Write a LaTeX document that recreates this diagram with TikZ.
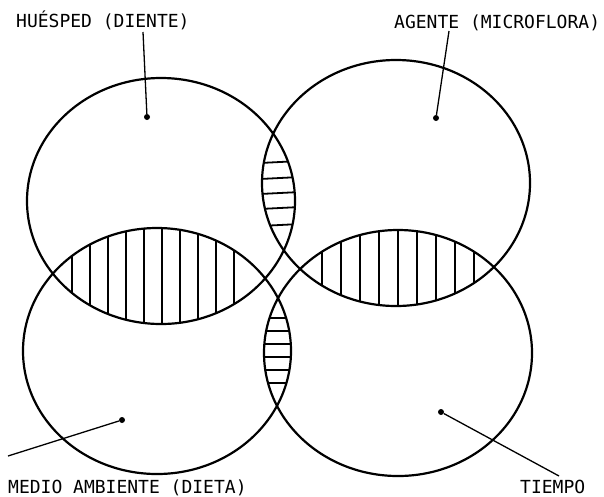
\documentclass[tikz,border=0pt]{standalone}
\usepackage{fontspec}
\newfontfamily\typewriter{DejaVu Sans Mono}
\usetikzlibrary{positioning,shapes.geometric}

\begin{document}
\begin{tikzpicture}[x=1pt, y=-1pt,
  ring/.style={draw, ellipse, line width=2.2pt, minimum width=268pt, minimum height=246pt, inner sep=0pt},
  dot/.style={circle, fill, inner sep=0pt, minimum size=6pt},
  tag/.style={anchor=base west, inner sep=0pt, font=\typewriter\fontsize{18}{20}\selectfont},
  hatch/.style={line width=1.8pt},
  lead/.style={line width=1.3pt}]
\useasboundingbox (0,0) rectangle (604,496);
% the four factors
\node[ring] (huesped) at (161,201) {};
\node[ring] (agente) at (396,183) {};
\node[ring] (medio) at (157,351) {};
\node[ring] (tiempo) at (398,353) {};
% hatched overlaps
\begin{scope}
  \clip (huesped.center) ellipse [x radius=134, y radius=123];
  \clip (agente.center) ellipse [x radius=134, y radius=123];
  \foreach \y in {162,178,193,208,225} \draw[hatch] (240,\y+2) -- (320,\y-2);
\end{scope}
\begin{scope}
  \clip (huesped.center) ellipse [x radius=134, y radius=123];
  \clip (medio.center) ellipse [x radius=134, y radius=123];
  \foreach \x in {72,90,...,234} \draw[hatch] (\x,210) -- (\x,340);
\end{scope}
\begin{scope}
  \clip (agente.center) ellipse [x radius=134, y radius=123];
  \clip (tiempo.center) ellipse [x radius=134, y radius=123];
  \foreach \x in {322,341,...,474} \draw[hatch] (\x,215) -- (\x,320);
\end{scope}
\begin{scope}
  \clip (medio.center) ellipse [x radius=134, y radius=123];
  \clip (tiempo.center) ellipse [x radius=134, y radius=123];
  \foreach \y in {318,331,...,383} \draw[hatch] (250,\y) -- (305,\y);
\end{scope}
% labels and leaders
\node[tag] (hue-lab) at (16,27) {HUÉSPED (DIENTE)};
\node[tag] (age-lab) at (394,28) {AGENTE (MICROFLORA)};
\node[tag] (med-lab) at (8,493) {MEDIO AMBIENTE (DIETA)};
\node[tag] (tie-lab) at (520,493) {TIEMPO};
\node[dot] (hue-dot) at (147,117) {};
\node[dot] (age-dot) at (436,118) {};
\node[dot] (med-dot) at (122,420) {};
\node[dot] (tie-dot) at (441,412) {};
\coordinate (hue-end) at (143,32);
\coordinate (age-end) at (449,31);
\coordinate (med-end) at (8,456);
\coordinate (tie-end) at (559,476);
\draw[lead] (hue-end) -- (hue-dot);
\draw[lead] (age-end) -- (age-dot);
\draw[lead] (med-dot) -- (med-end);
\draw[lead] (tie-dot) -- (tie-end);
\end{tikzpicture}
\end{document}
